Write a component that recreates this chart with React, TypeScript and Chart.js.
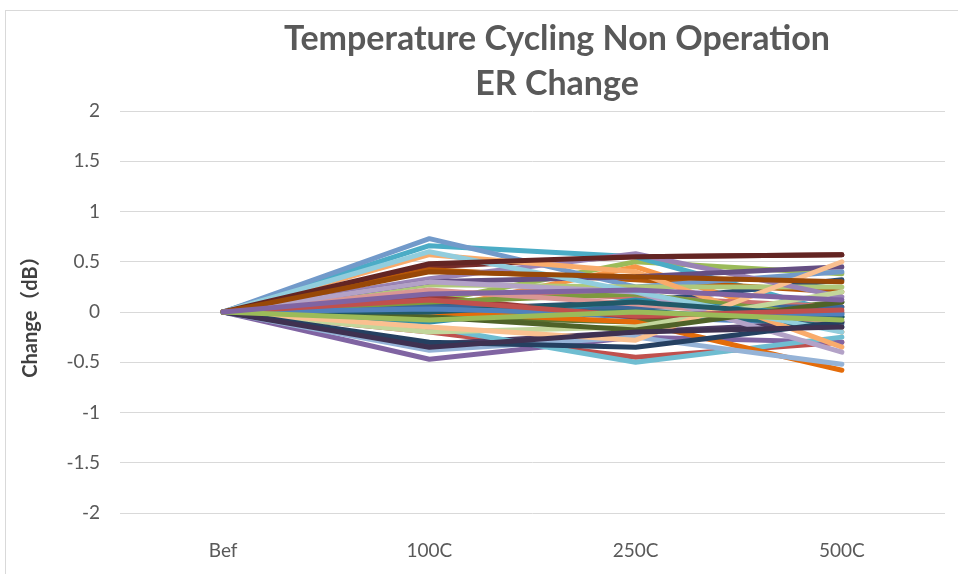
import { useEffect, useRef } from "react";
import { Chart, registerables } from "chart.js";

Chart.register(...registerables);

const categories = ["Bef", "100C", "250C", "500C"];
const titleLines = ["Temperature Cycling Non Operation", "ER Change"];
const yAxisTitle = "Change（dB）";
const yMin = -2;
const yMax = 2;
const yStep = 0.5;

// Office 2007 automatic series colours
const seriesColors = [
  "#4F81BD", "#C0504D", "#9BBB59", "#8064A2", "#4BACC6", "#F79646",
  "#2C4D75", "#772C2A", "#5F7530", "#4D3B62", "#276A7C", "#B65708",
  "#729ACA", "#CD7371", "#AFC97A", "#9983B5", "#6FBDD1", "#F9AB6B",
  "#3C679A", "#9A3B38", "#7D9A3E", "#654F83", "#2F8EAA", "#E46C0A",
  "#95B3D7", "#D99694", "#C3D69B", "#B3A2C7", "#92CDDD", "#FAC090",
  "#254061", "#632523", "#4F6228", "#3F3151", "#215968", "#984807",
  "#4F81BD", "#C0504D", "#9BBB59", "#8064A2",
];

const s01 = [0, 0.05, -0.05, -0.12];
const s02 = [0, -0.2, -0.45, -0.3];
const s03 = [0, 0.1, 0.5, 0.38];
const s04 = [0, -0.47, -0.25, -0.3];
const s05 = [0, 0.66, 0.55, -0.02];
const s06 = [0, 0.02, 0.45, -0.2];
const s07 = [0, 0.02, 0.1, 0.32];
const s08 = [0, 0.45, 0.55, 0.57];
const s09 = [0, -0.05, -0.1, 0.1];
const s10 = [0, -0.32, -0.2, -0.1];
const s11 = [0, 0.08, 0.02, -0.15];
const s12 = [0, 0.42, 0.32, 0.2];
const s13 = [0, 0.73, 0.25, 0.4];
const s14 = [0, 0.2, 0.15, 0.05];
const s15 = [0, 0.27, 0.25, 0.25];
const s16 = [0, 0.33, 0.58, 0.15];
const s17 = [0, -0.15, -0.5, -0.25];
const s18 = [0, 0.57, 0.4, -0.35];
const s19 = [0, 0.05, 0.05, 0.05];
const s20 = [0, 0.15, -0.05, 0.0];
const s21 = [0, 0.1, 0.18, -0.05];
const s22 = [0, 0.3, 0.35, 0.45];
const s23 = [0, -0.1, 0.12, -0.05];
const s24 = [0, 0.0, -0.1, -0.58];
const s25 = [0, -0.38, -0.25, -0.52];
const s26 = [0, 0.22, 0.08, -0.1];
const s27 = [0, -0.2, -0.15, 0.2];
const s28 = [0, 0.3, 0.2, -0.4];
const s29 = [0, 0.6, 0.2, -0.2];
const s30 = [0, -0.15, -0.28, 0.5];
const s31 = [0, -0.3, -0.35, -0.1];
const s32 = [0, 0.48, 0.55, 0.57];
const s33 = [0, -0.05, -0.18, 0.1];
const s34 = [0, -0.35, -0.2, -0.15];
const s35 = [0, 0.0, 0.1, -0.05];
const s36 = [0, 0.4, 0.35, 0.3];
const s37 = [0, 0.03, -0.02, -0.02];
const s38 = [0, 0.12, -0.04, 0.02];
const s39 = [0, -0.08, 0.0, -0.08];
const s40 = [0, 0.18, 0.22, 0.12];

const seriesValues = [
  s01, s02, s03, s04, s05, s06, s07, s08, s09, s10, s11, s12,
  s13, s14, s15, s16, s17, s18, s19, s20, s21, s22, s23, s24,
  s25, s26, s27, s28, s29, s30, s31, s32, s33, s34, s35, s36,
  s37, s38, s39, s40,
];

const FONT = "Lato, 'Open Sans', 'Liberation Sans', sans-serif";

const decorPlugin = {
  id: "excelDecor",
  beforeDraw(chart: any) {
    const ctx = chart.ctx;
    ctx.save();
    ctx.strokeStyle = "#d9d9d9";
    ctx.lineWidth = 1;
    ctx.strokeRect(5.5, 10.5, 2000, 2000);
    ctx.restore();
  },
  afterDraw(chart: any) {
    const ctx = chart.ctx;
    ctx.save();
    ctx.fillStyle = "#595959";
    ctx.textAlign = "center";
    ctx.textBaseline = "middle";
    ctx.font = "bold 34px " + FONT;
    ctx.fillText(titleLines[0], 557, 39);
    ctx.fillText(titleLines[1], 557, 84);
    ctx.restore();
  },
};

export default function App() {
  const canvasRef = useRef<HTMLCanvasElement | null>(null);

  useEffect(() => {
    document.body.style.margin = "0";
    document.body.style.overflow = "hidden";
    const canvas = canvasRef.current;
    if (!canvas) return;
    const n = seriesValues.length;
    const chart = new Chart(canvas, {
      type: "line",
      data: {
        labels: categories,
        datasets: seriesValues.map((vals, i) => ({
          label: "S" + (i + 1),
          data: vals,
          borderColor: seriesColors[i % seriesColors.length],
          backgroundColor: seriesColors[i % seriesColors.length],
          borderWidth: 5,
          pointRadius: 0,
          tension: 0,
          fill: false,
          borderJoinStyle: "round" as const,
          borderCapStyle: "round" as const,
          order: n - i,
        })),
      },
      options: {
        animation: false,
        responsive: true,
        maintainAspectRatio: false,
        layout: { padding: { left: 0, top: 111, right: 13, bottom: 0 } },
        plugins: {
          legend: { display: false },
          title: { display: false },
          tooltip: { enabled: false },
        },
        scales: {
          x: {
            offset: true,
            grid: { display: false, drawTicks: false },
            border: { display: false },
            ticks: { color: "#595959", font: { family: FONT, size: 19 }, padding: 26 },
            afterFit: (scale: any) => {
              scale.height = 61;
            },
          },
          y: {
            min: yMin,
            max: yMax,
            grid: { color: "#d9d9d9", lineWidth: 1, drawTicks: false },
            border: { display: false },
            ticks: {
              stepSize: yStep,
              color: "#595959",
              font: { family: FONT, size: 19 },
              padding: 20,
              callback: (v: any) => String(v),
            },
            title: {
              display: true,
              text: yAxisTitle,
              color: "#404040",
              font: { family: "Lato, 'Noto Sans CJK SC', sans-serif", size: 20, weight: "bold" },
              padding: { top: 19, bottom: 0 },
            },
            afterFit: (scale: any) => {
              scale.width = 120;
            },
          },
        },
      },
      plugins: [decorPlugin],
    });
    return () => chart.destroy();
  }, []);

  return (
    <div style={{ width: 958, height: 574, position: "relative" }}>
      <canvas ref={canvasRef} />
    </div>
  );
}
